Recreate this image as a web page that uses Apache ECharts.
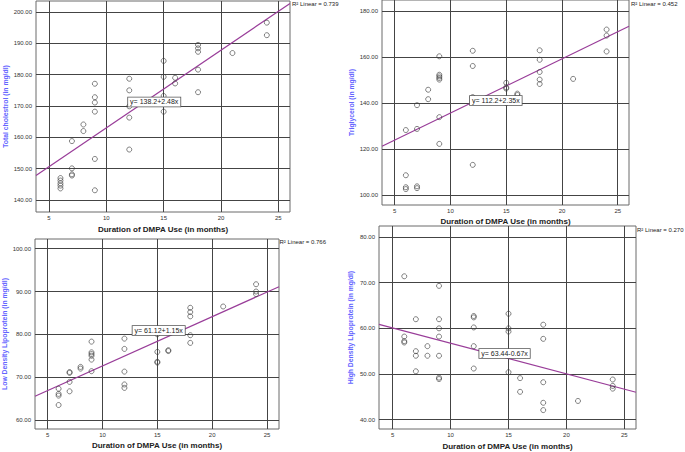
<!DOCTYPE html>
<html><head><meta charset="utf-8">
<script src="https://cdn.jsdelivr.net/npm/echarts@6/dist/echarts.min.js"></script>
<style>html,body{margin:0;padding:0;background:#fff}#c{width:685px;height:452px}</style>
</head><body><div id="c"></div>
<script>
// ---------------- data ----------------
const xTitle = 'Duration of DMPA Use (in months)';
const yTitles = ['Total cholestrol (in mg/dl)', 'Triglycerol (in mg/dl)', 'Low Density Lipoprotein (in mg/dl)', 'High Density Lipoprotein (in mg/dl)'];
const xTicks = [5, 10, 15, 20, 25];
const yTicks1 = [140, 150, 160, 170, 180, 190, 200];
const yTicks2 = [100, 120, 140, 160, 180];
const yTicks3 = [60, 70, 80, 90, 100];
const yTicks4 = [40, 50, 60, 70, 80];

const months1 = [6,6,6,6,6, 7,7,7,7, 8,8, 9,9,9,9,9,9, 12,12,12,12,12, 15,15,15,15, 16,16, 18,18,18,18,18, 21, 24,24];
const totalChol = [147.0,146.2,145.3,144.6,143.7, 158.8,150.1,148.2,147.8, 164.1,162.0, 177.1,172.8,171.1,168.2,153.1,143.1, 178.7,175.0,169.9,166.3,156.1, 184.4,179.3,173.2,168.2, 179.0,177.2, 189.5,188.4,187.3,181.6,174.4, 186.9, 196.6,192.6];

const months2 = [6,6,6,6, 7,7,7,7, 8,8, 9,9,9,9,9,9,9, 12,12,12,12, 15,15,15,15, 16,16, 18,18,18,18,18, 21, 24,24,24];
const triglycerol = [128.3,108.7,103.5,102.7, 139.1,128.8,103.9,103.1, 145.8,141.7, 160.3,152.3,151.6,150.9,150.2,133.9,122.3, 162.7,156.1,142.6,113.2, 148.8,146.8,146.3,140.0, 144.1,143.5, 162.9,158.8,153.5,150.2,148.3, 150.5, 171.9,169.3,162.4];

const months3 = [6,6,6,6, 7,7,7,7, 8,8, 9,9,9,9,9,9, 12,12,12,12,12, 15,15,15,15, 16,16, 18,18,18,18,18, 21, 24,24,24];
const ldl = [67.3,66.1,65.7,63.5, 71.2,71.0,68.9,66.7, 72.4,72.0, 78.3,75.8,75.4,75.0,74.1,71.4, 79.0,76.6,71.3,68.3,67.5, 80.0,75.9,73.6,73.4, 76.3,76.1, 86.2,85.2,84.2,79.8,78.0, 86.5, 91.7,90.0,89.4];

const months4 = [6,6,6,6, 7,7,7,7, 8,8, 9,9,9,9,9,9,9, 12,12,12,12,12, 15,15,15,15, 16,16, 18,18,18,18,18, 21, 24,24,24];
const hdl = [71.4,58.2,57.2,56.9, 62.0,55.0,54.0,50.6, 56.1,54.0, 69.3,62.0,60.0,58.2,54.0,49.2,48.9, 62.7,62.4,60.2,56.1,51.2, 63.2,60.0,59.3,50.4, 49.1,46.1, 60.8,57.7,48.2,43.7,42.1, 44.1, 48.8,47.4,46.8];

const fitIntercept = [138.2, 112.2, 61.12, 63.44];
const fitSlope = [2.48, 2.35, 1.15, -0.67];
const eqLabels = ['y= 138.2+2.48x', 'y= 112.2+2.35x', 'y= 61.12+1.15x', 'y= 63.44-0.67x'];
const r2Labels = ['R\u00B2 Linear = 0.739', 'R\u00B2 Linear = 0.452', 'R\u00B2 Linear = 0.766', 'R\u00B2 Linear = 0.270'];

// ---------------- layout ----------------
const panels = [
  {xs: months1, ys: totalChol, yTicks: yTicks1, grid: {left: 36, top: 1, width: 254, height: 211}, x: [3.866, 26.02], y: [136.17, 203.51], eq: [11.9, 171.3], r2: [292, 5], yGap: 27, xGap: 13},
  {xs: months2, ys: triglycerol, yTicks: yTicks2, grid: {left: 382, top: 0, width: 247, height: 205}, x: [3.861, 26.01], y: [95.79, 184.73], eq: [11.75, 141.1], r2: [631, 5], yGap: 27, xGap: 12},
  {xs: months3, ys: ldl, yTicks: yTicks3, grid: {left: 34, top: 239, width: 245, height: 190}, x: [3.847, 26.09], y: [57.90, 102.26], eq: [12.74, 80.9], r2: [279.5, 243], yGap: 27, xGap: 12},
  {xs: months4, ys: hdl, yTicks: yTicks4, grid: {left: 379, top: 226, width: 257, height: 203}, x: [3.817, 26.01], y: [37.96, 82.41], eq: [12.48, 54.5], r2: [637, 231], yGap: 25, xGap: 13}
];

const FONT = 'Liberation Sans, Arial, sans-serif';
const grids = [], xAxes = [], yAxes = [], series = [], graphics = [];
panels.forEach((p, i) => {
  grids.push(Object.assign({show: true, borderColor: '#6a6a6a', borderWidth: 1, backgroundColor: '#fff', containLabel: false}, p.grid));
  xAxes.push({
    gridIndex: i, type: 'value', min: p.x[0], max: p.x[1],
    name: xTitle, nameLocation: 'middle', nameGap: p.xGap,
    nameTextStyle: {fontFamily: FONT, fontSize: 8, fontWeight: 'bold', color: '#222'},
    axisLine: {show: false}, axisTick: {show: false, customValues: xTicks},
    axisLabel: {customValues: xTicks, fontFamily: FONT, fontSize: 6, color: '#333', margin: 3},
    splitLine: {show: true, lineStyle: {color: '#444', width: 1}}
  });
  yAxes.push({
    gridIndex: i, type: 'value', min: p.y[0], max: p.y[1],
    name: yTitles[i], nameLocation: 'middle', nameGap: p.yGap, nameRotate: 90,
    nameTextStyle: {fontFamily: FONT, fontSize: 6.8, fontWeight: 'bold', color: '#6464ff'},
    axisLine: {show: false}, axisTick: {show: false, customValues: p.yTicks},
    axisLabel: {customValues: p.yTicks, fontFamily: FONT, fontSize: 6, color: '#333', margin: 4, formatter: v => v.toFixed(2)},
    splitLine: {show: true, lineStyle: {color: '#444', width: 1}}
  });
  const a = fitIntercept[i], b = fitSlope[i];
  series.push({
    type: 'line', xAxisIndex: i, yAxisIndex: i, silent: true, symbol: 'none', animation: false,
    data: [[p.x[0], a + b * p.x[0]], [p.x[1], a + b * p.x[1]]],
    lineStyle: {color: '#993d99', width: 1.2}, z: 3
  });
  series.push({
    type: 'scatter', xAxisIndex: i, yAxisIndex: i, animation: false,
    data: p.xs.map((x, k) => [x, p.ys[k]]),
    symbol: 'circle', symbolSize: 5,
    itemStyle: {color: 'rgba(255,255,255,0)', borderColor: '#3a3a3a', borderWidth: 0.8}, z: 4,
    markPoint: {
      symbol: 'rect', symbolSize: 0, animation: false,
      data: [{coord: p.eq, value: eqLabels[i]}],
      label: {show: true, position: 'right', distance: 0, formatter: eqLabels[i], fontFamily: FONT, fontSize: 7, color: '#222',
        backgroundColor: '#fff', borderColor: '#555', borderWidth: 0.8, padding: [1, 2, 0, 2], lineHeight: 8}
    }
  });
  graphics.push({type: 'text', left: p.r2[0], top: p.r2[1] - 4, style: {text: r2Labels[i], font: '6px ' + FONT, fill: '#222'}});
});

const chart = echarts.init(document.getElementById('c'), null, {renderer: 'svg'});
chart.setOption({
  animation: false, backgroundColor: '#fff',
  grid: grids, xAxis: xAxes, yAxis: yAxes, series: series, graphic: graphics
});
</script></body></html>
